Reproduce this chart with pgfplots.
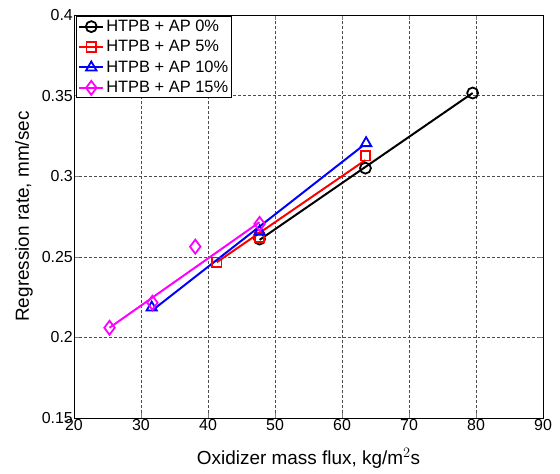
\documentclass[border=0pt]{standalone}
\usepackage{fontspec}
\setmainfont{Liberation Sans}
\usepackage{pgfplots}
\pgfplotsset{compat=1.18}
\definecolor{mlmag}{RGB}{255,0,255}
\definecolor{mlred}{RGB}{255,0,0}
\definecolor{mlblue}{RGB}{0,0,255}

\pgfplotsset{wideleg/.style={legend image code/.code={%
  \draw[mark repeat=2,mark phase=2] plot coordinates {(0bp,0bp) (12bp,0bp) (24bp,0bp)};}}}

\begin{document}
\begin{tikzpicture}
\begin{axis}[
  scale only axis,
  width=469bp,height=403bp,
  xmin=20,xmax=90,ymin=0.15,ymax=0.4,
  xtick={20,30,...,90},ytick={0.15,0.2,...,0.41},
  yticklabel style={/pgf/number format/fixed,/pgf/number format/precision=2,inner sep=1pt},
  xticklabel style={inner sep=1.5pt},
  /pgf/number format/assume math mode=true,
  tick label style={font=\fontsize{16}{18}\selectfont},
  label style={font=\fontsize{19}{22}\selectfont},
  xlabel={Oxidizer mass flux, kg/m$^2$s},
  ylabel={Regression rate, mm/sec},
  xlabel style={at={(rel axis cs:0.5,0)},anchor=base,yshift=-46bp},
  ylabel style={at={(rel axis cs:0,0.5)},anchor=base,yshift=45bp},
  grid=major,grid style={black!70,densely dashed,line width=0.6pt},
  tick align=inside,major tick length=5bp,
  axis line style={line width=0.9pt},
  legend style={font=\fontsize{16.5}{19}\selectfont,at={(0.005,0.997)},anchor=north west,
    draw=black,line width=0.9pt,inner sep=1.5pt,row sep=3.5pt,
    /tikz/every even column/.append style={column sep=1pt}},
  legend cell align=left,
  every axis plot/.append style={line width=2pt},
]
\addlegendimage{wideleg,black,mark=o,mark size=5.5pt,mark options={line width=1.8pt}}
\addlegendentry{HTPB + AP 0\%}
\addlegendimage{wideleg,mlred,mark=square,mark size=4.8pt,mark options={line width=1.8pt}}
\addlegendentry{HTPB + AP 5\%}
\addlegendimage{wideleg,mlblue,mark=triangle,mark size=6pt,mark options={line width=1.8pt}}
\addlegendentry{HTPB + AP 10\%}
\addlegendimage{wideleg,mlmag,mark=diamond,mark size=7pt,mark options={line width=1.8pt}}
\addlegendentry{HTPB + AP 15\%}

% fitted lines
\addplot[black,forget plot] coordinates {(47.7,0.2605) (79.5,0.3516)};
\addplot[mlred,forget plot] coordinates {(41.3,0.2466) (63.5,0.3100)};
\addplot[mlblue,forget plot] coordinates {(31.6,0.2165) (63.0,0.3185)};
\addplot[mlmag,forget plot] coordinates {(25.3,0.2060) (47.7,0.2715)};

% measured points
\addplot[black,only marks,mark=o,mark size=5.5pt,mark options={line width=1.8pt},forget plot]
  coordinates {(47.7,0.261) (63.5,0.305) (79.5,0.3516)};
\addplot[mlred,only marks,mark=square,mark size=4.8pt,mark options={line width=1.8pt},forget plot]
  coordinates {(41.3,0.2466) (47.7,0.262) (63.5,0.3127)};
\addplot[mlblue,only marks,mark=triangle,mark size=6pt,mark options={line width=1.8pt},forget plot]
  coordinates {(31.6,0.2185) (47.7,0.2656) (63.6,0.3205)};
\addplot[mlmag,only marks,mark=diamond,mark size=7pt,mark options={line width=1.8pt},forget plot]
  coordinates {(25.3,0.206) (31.7,0.2215) (38.1,0.2563) (47.7,0.2704)};

\coordinate (ll) at (rel axis cs:0,0);
\coordinate (ur) at (rel axis cs:1,1);
\end{axis}
\pgfresetboundingbox
\path ([shift={(-74bp,-55bp)}]ll) rectangle ([shift={(17bp,15bp)}]ur);
\end{tikzpicture}
\end{document}
